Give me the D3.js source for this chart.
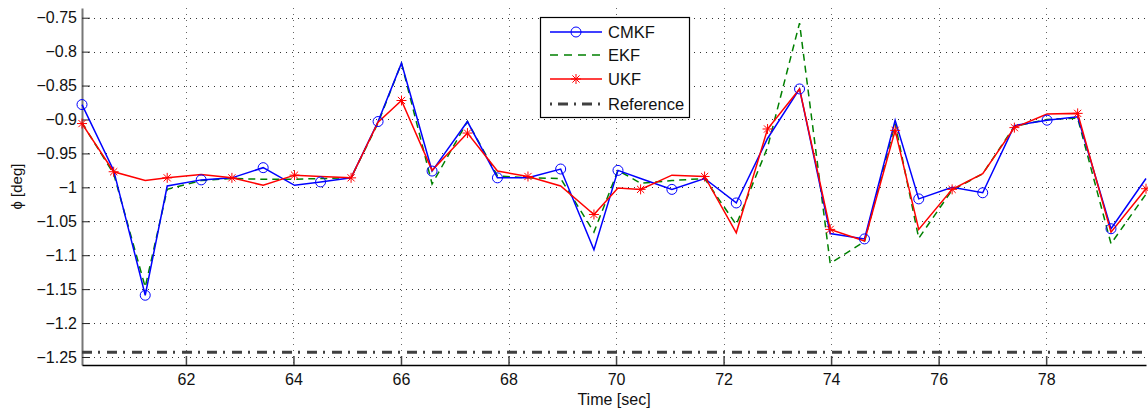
<!DOCTYPE html>
<html>
<head>
<meta charset="utf-8">
<script src="https://cdn.jsdelivr.net/npm/d3@7"></script>
<style>
  html, body { margin: 0; padding: 0; background: #fff; }
  svg { display: block; font-family: "Liberation Sans", Arial, sans-serif; }
</style>
</head>
<body>
<svg id="chart" width="1148" height="412"></svg>
<script>
// ---- data ----
const time = [60.067, 60.656, 61.243, 61.652, 62.284, 62.855, 63.437, 64.020, 64.504, 65.072,
              65.574, 66.009, 66.578, 67.236, 67.794, 68.362, 68.970, 69.589, 70.036, 70.457,
              71.039, 71.647, 72.236, 72.818, 73.413, 73.983, 74.621, 75.191, 75.630, 76.251,
              76.820, 77.409, 78.017, 78.586, 79.206, 79.857];
const cmkf = [-0.878, -0.975, -1.159, -0.998, -0.989, -0.986, -0.971, -0.997, -0.992, -0.986,
              -0.903, -0.817, -0.976, -0.903, -0.986, -0.986, -0.973, -1.092, -0.975, -0.987,
              -1.003, -0.987, -1.023, -0.928, -0.855, -1.068, -1.076, -0.901, -1.017, -1.000,
              -1.008, -0.909, -0.901, -0.896, -1.061, -0.987];
const ekf  = [-0.905, -0.980, -1.147, -1.003, -0.990, -0.987, -0.988, -0.988, -0.987, -0.986,
              -0.905, -0.817, -0.995, -0.903, -0.983, -0.986, -0.987, -1.066, -0.975, -0.994,
              -0.990, -0.987, -1.055, -0.941, -0.758, -1.112, -1.080, -0.906, -1.075, -1.004,
              -0.980, -0.910, -0.900, -0.898, -1.083, -1.010];
const ukf  = [-0.906, -0.977, -0.990, -0.986, -0.981, -0.986, -0.997, -0.982, -0.984, -0.986,
              -0.904, -0.872, -0.975, -0.920, -0.976, -0.984, -0.998, -1.040, -1.001, -1.003,
              -0.982, -0.984, -1.067, -0.914, -0.855, -1.062, -1.079, -0.916, -1.062, -1.003,
              -0.980, -0.912, -0.892, -0.891, -1.066, -1.002];
const reference = -1.243;
const xTicks = [62, 64, 66, 68, 70, 72, 74, 76, 78];
const yTicks = [-1.25, -1.2, -1.15, -1.1, -1.05, -1, -0.95, -0.9, -0.85, -0.8, -0.75];
const legendLabels = ["CMKF", "EKF", "UKF", "Reference"];

// ---- layout ----
const L = 82, R = 1146, T = 8, B = 365;
const svg = d3.select("#chart");
const x = d3.scaleLinear().domain([time[0], time[time.length - 1]]).range([L, R]);
const y = d3.scaleLinear().domain([-1.2618, -0.7357]).range([B, T]);
const fmt = v => String(+v.toFixed(2)).replace("-", "\u2212");

// grid
const grid = svg.append("g");
grid.selectAll("line.h").data(yTicks).join("line")
  .attr("x1", L).attr("x2", R)
  .attr("y1", d => Math.round(y(d)) + 0.5).attr("y2", d => Math.round(y(d)) + 0.5)
  .attr("stroke", "#333").attr("stroke-width", 1).attr("stroke-dasharray", "1,5");
grid.selectAll("line.v").data(xTicks).join("line")
  .attr("y1", T).attr("y2", B)
  .attr("x1", d => Math.round(x(d)) + 0.5).attr("x2", d => Math.round(x(d)) + 0.5)
  .attr("stroke", "#666").attr("stroke-width", 1).attr("stroke-dasharray", "1,5");

// axes
const yAxis = d3.axisLeft(y).tickValues(yTicks).tickSize(-8).tickSizeOuter(0).tickPadding(5).tickFormat(fmt);
const gy = svg.append("g").attr("transform", `translate(${L},0)`).call(yAxis);
gy.select(".domain").attr("stroke", "#777").attr("stroke-width", 2);
gy.selectAll(".tick line").attr("stroke", "#222");
gy.selectAll(".tick text").attr("font-size", 16).attr("fill", "#111")
  .attr("font-family", "Liberation Sans, Arial, sans-serif");

const xAxis = d3.axisBottom(x).tickValues(xTicks).tickSize(-9).tickSizeOuter(0).tickPadding(9).tickFormat(d3.format("d"));
const gx = svg.append("g").attr("transform", `translate(0,${B})`).call(xAxis);
gx.select(".domain").attr("stroke", "#000").attr("stroke-width", 1.5);
gx.selectAll(".tick line").attr("stroke", "#444").attr("stroke-width", 1.5);
gx.selectAll(".tick text").attr("font-size", 16).attr("fill", "#111")
  .attr("font-family", "Liberation Sans, Arial, sans-serif");

// labels
svg.append("text").attr("x", (L + R) / 2).attr("y", 405).attr("text-anchor", "middle")
  .attr("font-size", 16).attr("fill", "#111").text("Time [sec]");
svg.append("text").attr("transform", `translate(22,${(T + B) / 2}) rotate(-90)`)
  .attr("text-anchor", "middle").attr("font-size", 15).attr("fill", "#111").text("\u03D5 [deg]");

// reference line
svg.append("line").attr("x1", L).attr("x2", R)
  .attr("y1", y(reference)).attr("y2", y(reference))
  .attr("stroke", "#404040").attr("stroke-width", 3).attr("stroke-dasharray", "10,6,2,7");

// series
const line = arr => d3.line().x((d, i) => x(time[i])).y(d => y(d))(arr);
svg.append("path").attr("d", line(ekf)).attr("fill", "none")
  .attr("stroke", "#008000").attr("stroke-width", 1.5).attr("stroke-dasharray", "7,5");
svg.append("path").attr("d", line(cmkf)).attr("fill", "none")
  .attr("stroke", "#0000ff").attr("stroke-width", 1.5);
svg.append("path").attr("d", line(ukf)).attr("fill", "none")
  .attr("stroke", "#ff0000").attr("stroke-width", 1.5);

const starPath = r => {
  const k = r * 0.72;
  return `M${-r},0H${r}M0,${-r}V${r}M${-k},${-k}L${k},${k}M${-k},${k}L${k},${-k}`;
};
const cIdx = cmkf.map((d, i) => i).filter(i => i % 2 === 0);
svg.append("g").selectAll("circle").data(cIdx).join("circle")
  .attr("cx", i => x(time[i])).attr("cy", i => y(cmkf[i])).attr("r", 5)
  .attr("fill", "none").attr("stroke", "#0000ff").attr("stroke-width", 1);
const uIdx = ukf.map((d, i) => i).filter(i => i === 0 || i % 2 === 1);
svg.append("g").selectAll("path").data(uIdx).join("path")
  .attr("transform", i => `translate(${x(time[i])},${y(ukf[i])})`)
  .attr("d", starPath(5)).attr("fill", "none").attr("stroke", "#ff0000").attr("stroke-width", 1);

// legend
const lg = svg.append("g");
lg.append("rect").attr("x", 540.5).attr("y", 17.5).attr("width", 149).attr("height", 100)
  .attr("fill", "#fff").attr("stroke", "#000").attr("stroke-width", 1.2);
const ly = [32, 55, 79, 104];
const lx1 = 550, lx2 = 602, lm = 576;
lg.append("line").attr("x1", lx1).attr("x2", lx2).attr("y1", ly[0]).attr("y2", ly[0])
  .attr("stroke", "#0000ff").attr("stroke-width", 1.5);
lg.append("circle").attr("cx", lm).attr("cy", ly[0]).attr("r", 5)
  .attr("fill", "none").attr("stroke", "#0000ff").attr("stroke-width", 1);
lg.append("line").attr("x1", lx1).attr("x2", lx2).attr("y1", ly[1]).attr("y2", ly[1])
  .attr("stroke", "#008000").attr("stroke-width", 1.5).attr("stroke-dasharray", "8,6");
lg.append("line").attr("x1", lx1).attr("x2", lx2).attr("y1", ly[2]).attr("y2", ly[2])
  .attr("stroke", "#ff0000").attr("stroke-width", 1.5);
lg.append("path").attr("transform", `translate(${lm},${ly[2]})`).attr("d", starPath(5))
  .attr("fill", "none").attr("stroke", "#ff0000").attr("stroke-width", 1);
lg.append("line").attr("x1", lx1).attr("x2", lx2).attr("y1", ly[3]).attr("y2", ly[3])
  .attr("stroke", "#404040").attr("stroke-width", 3).attr("stroke-dasharray", "2,6,10,6");
lg.selectAll("text").data(legendLabels).join("text")
  .attr("x", 608).attr("y", (d, i) => ly[i]).attr("dy", "0.36em")
  .attr("font-size", 16.5).attr("fill", "#111").text(d => d);
</script>
</body>
</html>
